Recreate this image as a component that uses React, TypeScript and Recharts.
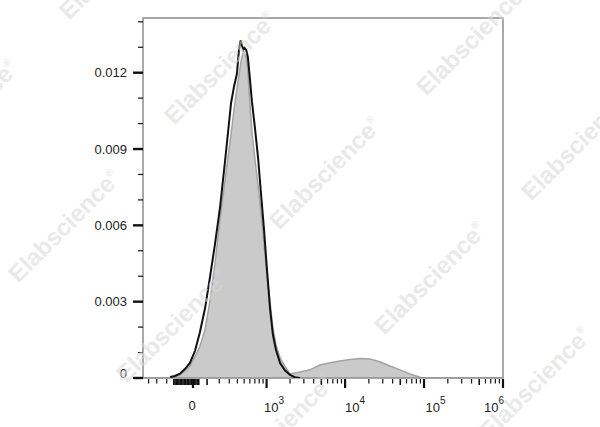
import React from 'react';
import { ComposedChart, Area, Line, XAxis, YAxis, ReferenceArea } from 'recharts';

// histogram bins, in biexponential display units (asinh(v / 237))
const channel = [
  -1.46, -0.96, -0.67, -0.53, -0.38, -0.23, -0.09, 0.06, 0.2, 0.35, 0.5, 0.64, 0.79, 0.93,
  1.02, 1.11, 1.2, 1.28, 1.34, 1.39, 1.43, 1.47, 1.5, 1.55, 1.6, 1.66, 1.72, 1.81, 1.9, 1.98,
  2.07, 2.16, 2.25, 2.33, 2.42, 2.54, 2.68, 2.83, 2.97, 3.12, 3.41, 3.7, 3.99, 4.29, 4.58,
  4.87, 5.16, 5.45, 5.74, 6.04, 6.33, 6.62, 6.76, 7.06, 7.78, 9.04,
];

// black outline (control)
const control = [
  null, null, 0.00004, 0.00008, 0.00017, 0.00036, 0.00059, 0.00107, 0.00179, 0.00273, 0.004,
  0.00525, 0.00672, 0.00847, 0.00963, 0.01081, 0.01148, 0.01195, 0.0129, 0.01327, 0.01305,
  0.0129, 0.01297, 0.0129, 0.01262, 0.01176, 0.01085, 0.00979, 0.00862, 0.0073, 0.00586,
  0.00422, 0.00269, 0.00171, 0.00111, 0.00059, 0.0003, 0.00012, 0.00003, 0, null, null, null,
  null, null, null, null, null, null, null, null, null, null, null, null, null,
];

// grey filled (stained)
const stained = [
  0, 0, 0, 0.00002, 0.00012, 0.00028, 0.00047, 0.00085, 0.00124, 0.00189, 0.00308, 0.00448,
  0.00628, 0.00772, 0.00867, 0.00958, 0.01058, 0.01137, 0.01189, 0.01235, 0.01263, 0.01283,
  0.01279, 0.01263, 0.01208, 0.01078, 0.00967, 0.00857, 0.00754, 0.00655, 0.00529, 0.00399,
  0.00296, 0.00197, 0.0013, 0.00079, 0.00047, 0.00016, 0.0002, 0.00024, 0.00032, 0.00051,
  0.0006, 0.00067, 0.00073, 0.00077, 0.00075, 0.00064, 0.00047, 0.00032, 0.00016, 0.00003,
  0, 0, 0, 0,
];

const yTicks = [
  0, 0.001, 0.002, 0.003, 0.004, 0.005, 0.006, 0.007, 0.008, 0.009, 0.01, 0.011, 0.012, 0.013, 0.014,
];
const yLabelled = ['0', '0.003', '0.006', '0.009', '0.012'];

const xDecades = [0, 1000, 10000, 100000, 1000000];
const xDecadeExp = ['', '3', '4', '5', '6'];
const xMidTicks = [5000, 50000, 500000];
const xMinorTicks = [
  -400, -300, -200,
  -140, -130, -120, -110, -100, -90, -80, -70, -60, -50, -40, -30, -20, -10, 10, 20, 30, 40,
  100, 200, 300, 400, 500, 600, 700, 800, 900,
  2000, 3000, 4000, 6000, 7000, 8000, 9000,
  20000, 30000, 40000, 60000, 70000, 80000, 90000,
  200000, 300000, 400000, 600000, 700000, 800000, 900000,
];

const COFACTOR = 237;
const toChannel = (v: number) => Math.asinh(v / COFACTOR);

const X_MIN = -1.458;
const X_MAX = 9.041;
const Y_MAX = 0.01415;

const FONT = '"Liberation Sans", Arial, sans-serif';

const data = channel.map((c, i) => ({ channel: c, control: control[i], stained: stained[i] }));

type TickSpec = { t: number; kind: 'major' | 'mid' | 'minor' | 'near'; exp?: string };
const xTickSpecs: TickSpec[] = [
  ...xDecades.map((v, i) => ({ t: toChannel(v), kind: 'major' as const, exp: xDecadeExp[i] })),
  ...xMidTicks.map((v) => ({ t: toChannel(v), kind: 'mid' as const })),
  ...xMinorTicks.map((v) => ({
    t: toChannel(v),
    kind: Math.abs(v) <= 140 ? ('near' as const) : ('minor' as const),
  })),
].sort((a, b) => a.t - b.t);

// label nudges so the decade labels sit like the original
const labelShift: Record<string, number> = { '': -1, '3': 7.5, '4': 10, '5': 11.5, '6': -9 };

const XTick = (props: any) => {
  const { x, y, payload } = props;
  const spec = xTickSpecs.find((s) => Math.abs(s.t - payload.value) < 1e-9);
  if (!spec) return null;
  const len = spec.kind === 'major' ? 9 : spec.kind === 'mid' || spec.kind === 'near' ? 6 : 4.5;
  const w = spec.kind === 'major' ? 2.2 : spec.kind === 'mid' || spec.kind === 'near' ? 1.6 : 1.2;
  return (
    <g>
      <line x1={x} x2={x} y1={y + 1} y2={y + 1 + len} stroke="#111" strokeWidth={w} />
      {spec.kind === 'major' && spec.exp === '' && (
        <text x={x + labelShift['']} y={y + 32} textAnchor="middle" fontSize={13} fontFamily={FONT} fill="#222">
          0
        </text>
      )}
      {spec.kind === 'major' && spec.exp !== '' && (
        <text x={x + labelShift[spec.exp as string]} y={y + 34} textAnchor="middle" fontSize={13} fontFamily={FONT} fill="#222">
          <tspan>10</tspan>
          <tspan dy={-8} fontSize={10}>{spec.exp}</tspan>
        </text>
      )}
    </g>
  );
};

const YTick = (props: any) => {
  const { x, y, payload } = props;
  const v = payload.value as number;
  const idx = Math.round(v * 1000);
  const major = idx % 3 === 0;
  return (
    <g>
      <line x1={x - (major ? 10 : 5)} x2={x} y1={y} y2={y} stroke="#111" strokeWidth={major ? 2.4 : 1.2} />
      {major && (
        <text x={x - 16} y={y + (idx === 0 ? 0 : 4.5)} textAnchor="end" fontSize={13} fontFamily={FONT} fill="#222">
          {yLabelled[idx / 3]}
        </text>
      )}
    </g>
  );
};

const marks = [
  [121, -31], [226, 74], [331, 179], [436, 284], [541, 389],
  [478, 45], [583, 150],
  [-32, 122], [70, 232], [178, 332], [283, 437],
];

export default function App() {
  return (
    <div style={{ position: 'absolute', left: 0, top: 0, width: 600, height: 427, background: '#fff' }}>
      <ComposedChart width={600} height={427} data={data} margin={{ top: 18, right: 97, left: 0, bottom: 0 }}>
        <XAxis
          dataKey="channel"
          type="number"
          domain={[X_MIN, X_MAX]}
          ticks={xTickSpecs.map((s) => s.t)}
          interval={0}
          tick={<XTick />}
          tickLine={false}
          axisLine={false}
          tickSize={0}
          tickMargin={0}
          height={49}
          allowDataOverflow
        />
        <YAxis
          type="number"
          domain={[0, Y_MAX]}
          ticks={yTicks}
          interval={0}
          tick={<YTick />}
          tickLine={false}
          axisLine={false}
          tickSize={0}
          tickMargin={0}
          width={143}
          allowDataOverflow
        />
        <Area
          dataKey="stained"
          type="linear"
          fill="#cacaca"
          fillOpacity={1}
          stroke="#a3a3a3"
          strokeWidth={1.5}
          isAnimationActive={false}
        />
        <Line
          dataKey="control"
          type="linear"
          stroke="#111"
          strokeWidth={2}
          dot={false}
          isAnimationActive={false}
        />
        <ReferenceArea x1={X_MIN} x2={X_MAX} y1={0} y2={Y_MAX} fill="none" stroke="#8c8c8c" strokeWidth={1.5} />
      </ComposedChart>
      <svg width={600} height={427} style={{ position: 'absolute', left: 0, top: 0, pointerEvents: 'none' }}>
        {marks.map(([cx, cy], i) => (
          <text
            key={i}
            transform={`translate(${cx},${cy}) rotate(-45)`}
            textAnchor="middle"
            fontSize={24}
            fontWeight="bold"
            fontFamily={FONT}
            fill="#d8d8d8"
            opacity={0.55}
          >
            Elabscience
            <tspan dy={-11} fontSize={10}>®</tspan>
          </text>
        ))}
      </svg>
    </div>
  );
}
